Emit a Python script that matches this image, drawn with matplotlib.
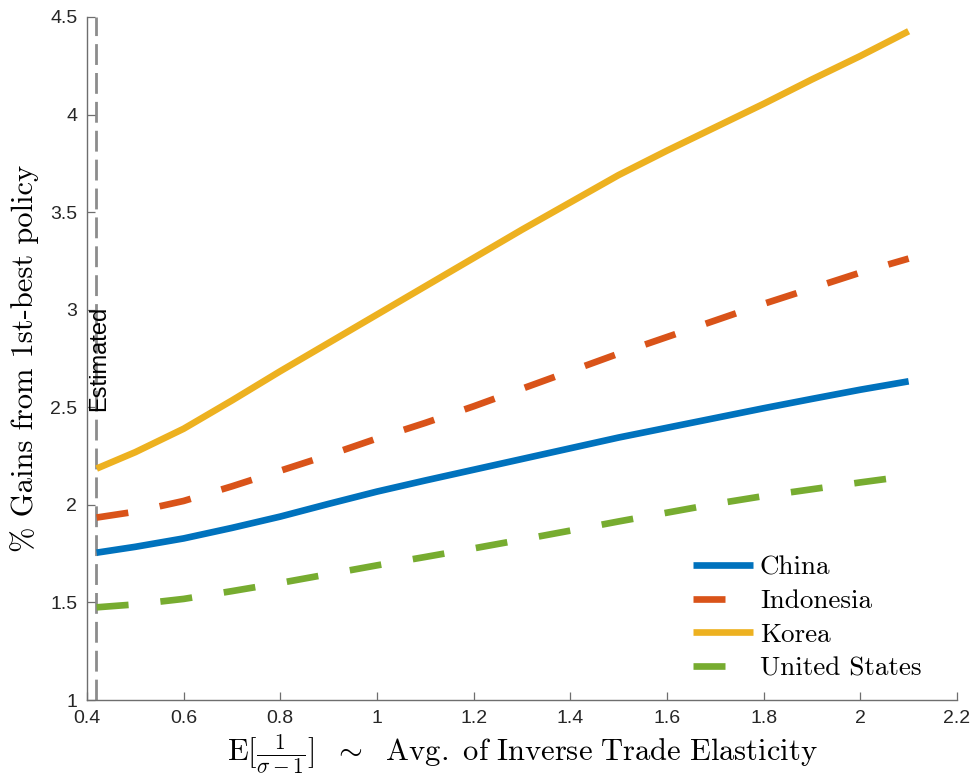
import numpy as np
import matplotlib.pyplot as plt

plt.rcParams['mathtext.fontset'] = 'cm'
plt.rcParams['font.family'] = ['Liberation Sans', 'DejaVu Sans']

# Promedio de la elasticidad inversa y ganancias (%) por pais
x_china = [0.42, 0.5, 0.6, 0.7, 0.8, 0.9, 1.0, 1.1, 1.2, 1.3, 1.4, 1.5, 1.6, 1.7, 1.8, 1.9, 2.0, 2.1]
y_china = [1.755, 1.785, 1.828, 1.882, 1.94, 2.005, 2.068, 2.125, 2.18, 2.235, 2.29, 2.345,
           2.395, 2.445, 2.495, 2.543, 2.59, 2.633]

x_indonesia = [0.42, 0.5, 0.6, 0.7, 0.8, 0.9, 1.0, 1.1, 1.2, 1.3, 1.4, 1.5, 1.6, 1.7, 1.8, 1.9, 2.0, 2.1]
y_indonesia = [1.935, 1.965, 2.02, 2.095, 2.175, 2.255, 2.34, 2.42, 2.505, 2.595, 2.685, 2.775,
               2.86, 2.945, 3.03, 3.11, 3.19, 3.262]

x_korea = [0.42, 0.5, 0.6, 0.7, 0.8, 0.9, 1.0, 1.1, 1.2, 1.3, 1.4, 1.5, 1.6, 1.7, 1.8, 1.9, 2.0, 2.1]
y_korea = [2.186, 2.27, 2.39, 2.535, 2.685, 2.83, 2.975, 3.12, 3.265, 3.41, 3.55, 3.69,
           3.815, 3.935, 4.055, 4.18, 4.30, 4.427]

x_usa = [0.42, 0.5, 0.6, 0.7, 0.8, 0.9, 1.0, 1.1, 1.2, 1.3, 1.4, 1.5, 1.6, 1.7, 1.8, 1.9, 2.0, 2.1]
y_usa = [1.475, 1.49, 1.518, 1.558, 1.60, 1.645, 1.69, 1.733, 1.777, 1.822, 1.868, 1.915,
         1.96, 2.005, 2.045, 2.08, 2.115, 2.148]

x_estimado = 0.418

AZUL = '#0072BD'
NARANJA = '#D95319'
AMARILLO = '#EDB120'
VERDE = '#77AC30'

fig = plt.figure(figsize=(9.73, 7.79), dpi=100)
ax = fig.add_axes([0.0894, 0.1014, 0.8941, 0.8768])

# Linea vertical del valor estimado
ax.plot([x_estimado, x_estimado], [1, 4.5], color='#8c8c8c', lw=2.0,
        dashes=(7.5, 2.9), zorder=1)
ax.text(x_estimado + 0.007, 2.75, 'Estimated', rotation=90, ha='center',
        va='center', fontsize=17, color='black', zorder=5)

lw = 4.8
guiones = (4.8, 4.8)
ax.plot(x_china, y_china, color=AZUL, lw=lw, solid_capstyle='butt', label='China')
ax.plot(x_indonesia, y_indonesia, color=NARANJA, lw=lw, dashes=guiones,
        dash_capstyle='butt', label='Indonesia')
ax.plot(x_korea, y_korea, color=AMARILLO, lw=lw, solid_capstyle='butt', label='Korea')
ax.plot(x_usa, y_usa, color=VERDE, lw=lw, dashes=guiones,
        dash_capstyle='butt', label='United States')

ax.set_xlim(0.4, 2.2)
ax.set_ylim(1, 4.5)
ax.set_xticks(np.arange(0.4, 2.21, 0.2))
ax.set_xticklabels(['0.4', '0.6', '0.8', '1', '1.2', '1.4', '1.6', '1.8', '2', '2.2'])
ax.set_yticks(np.arange(1, 4.51, 0.5))
ax.set_yticklabels(['1', '1.5', '2', '2.5', '3', '3.5', '4', '4.5'])

for lado in ['top', 'right']:
    ax.spines[lado].set_visible(False)
for lado in ['left', 'bottom']:
    ax.spines[lado].set_color('#6e6e6e')
    ax.spines[lado].set_linewidth(1.0)

ax.tick_params(direction='in', length=6.0, width=0.9, color='#6e6e6e',
               labelsize=14, labelcolor='#262626', pad=7)

ax.set_xlabel(r'$\mathrm{E}[\frac{1}{\sigma-1}]\ \ \sim\ \ \mathrm{Avg.\ of\ Inverse\ Trade\ Elasticity}$',
              fontsize=22, labelpad=4)
ax.set_ylabel('% Gains from 1st-best policy', fontfamily='cmr10', fontsize=22,
              labelpad=8)

ax.legend(loc='upper left', bbox_to_anchor=(0.6966, 0.2112), frameon=False,
          prop={'family': 'cmr10', 'size': 19.5}, handlelength=2.2,
          handletextpad=0.27, labelspacing=0.35, borderpad=0, borderaxespad=0)

fig.savefig('out.png', dpi=100)
